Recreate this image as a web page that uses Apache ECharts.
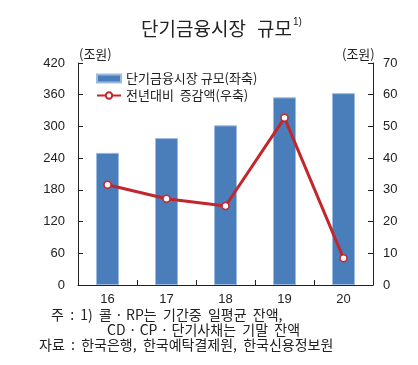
<!DOCTYPE html>
<html><head><meta charset="utf-8">
<script src="https://cdn.jsdelivr.net/npm/echarts@6/dist/echarts.min.js"></script>
<style>html,body{margin:0;padding:0;background:#fff}#c{width:418px;height:365px}</style>
</head><body><div id="c"></div>
<script>
const categories = ['16','17','18','19','20'];
const marketSize = [250, 278, 302, 355, 363];
const yoyChange = [31.6, 27.2, 24.9, 52.7, 8.4];
const leftTicks = [0, 60, 120, 180, 240, 300, 360, 420];
const rightTicks = [0, 10, 20, 30, 40, 50, 60, 70];
const seriesNames = ['단기금융시장 규모(좌축)', '전년대비  증감액(우축)'];

const KR = '"Noto Sans CJK KR", "Liberation Sans", sans-serif';
const NUM = '"Liberation Sans", Arial, sans-serif';
const chart = echarts.init(document.getElementById('c'));
chart.setOption({
  animation: false,
  backgroundColor: '#fff',
  grid: { left: 78, right: 45, top: 63, bottom: 80 },
  legend: {
    orient: 'vertical', left: 96, top: 72, itemGap: 4, padding: 0,
    itemWidth: 24, itemHeight: 8,
    textStyle: { fontFamily: KR, fontSize: 13, color: '#222' },
    data: [
      { name: seriesNames[0], icon: 'rect' },
      { name: seriesNames[1] }
    ]
  },
  xAxis: {
    type: 'category', data: categories,
    axisLine: { lineStyle: { color: '#222', width: 1 } },
    axisTick: { show: true, inside: true, length: 5, alignWithLabel: false, lineStyle: { color: '#222' } },
    axisLabel: { fontFamily: NUM, fontSize: 13, color: '#222', margin: 8 }
  },
  yAxis: [
    {
      type: 'value', min: 0, max: 420, interval: 60,
      axisLine: { show: true, lineStyle: { color: '#222' } },
      axisTick: { show: true, inside: true, length: 5, lineStyle: { color: '#222' } },
      axisLabel: { fontFamily: NUM, fontSize: 13, color: '#222', margin: 13 },
      splitLine: { show: false }
    },
    {
      type: 'value', min: 0, max: 70, interval: 10,
      axisLine: { show: true, lineStyle: { color: '#222' } },
      axisTick: { show: true, inside: true, length: 5, lineStyle: { color: '#222' } },
      axisLabel: { fontFamily: NUM, fontSize: 13, color: '#222', margin: 10 },
      splitLine: { show: false }
    }
  ],
  series: [
    {
      name: seriesNames[0], type: 'bar', yAxisIndex: 0, data: marketSize,
      barWidth: 23,
      itemStyle: { color: '#4a7ebb', borderColor: '#9dbbe0', borderWidth: 1 }
    },
    {
      name: seriesNames[1], type: 'line', yAxisIndex: 1, data: yoyChange,
      symbol: 'circle', symbolSize: 7,
      lineStyle: { color: '#c1272d', width: 3 },
      itemStyle: { color: '#fff', borderColor: '#c1272d', borderWidth: 1.5 }
    }
  ],
  graphic: [
    { type: 'text', left: 141, top: 19, style: { text: '단기금융시장', fontFamily: KR, fontSize: 19, fill: '#222' } },
    { type: 'text', left: 257, top: 19, style: { text: '규모', fontFamily: KR, fontSize: 19, fill: '#222' } },
    { type: 'text', left: 293, top: 17, style: { text: '1)', fontFamily: NUM, fontSize: 10, fill: '#222' } },
    { type: 'text', left: 79, top: 48, style: { text: '(조원)', fontFamily: KR, fontSize: 13, fill: '#222' } },
    { type: 'text', left: 342, top: 48, style: { text: '(조원)', fontFamily: KR, fontSize: 13, fill: '#222' } },
    { type: 'text', left: 51, top: 308, style: { text: '주  :  1)  콜 · RP는  기간중  일평균  잔액,', fontFamily: KR, fontSize: 14, fill: '#222' } },
    { type: 'text', left: 107, top: 323, style: { text: 'CD · CP · 단기사채는  기말  잔액', fontFamily: KR, fontSize: 14, fill: '#222' } },
    { type: 'text', left: 39, top: 338, style: { text: '자료  :  한국은행,  한국예탁결제원,  한국신용정보원', fontFamily: KR, fontSize: 14, fill: '#222' } }
  ]
});
</script></body></html>
